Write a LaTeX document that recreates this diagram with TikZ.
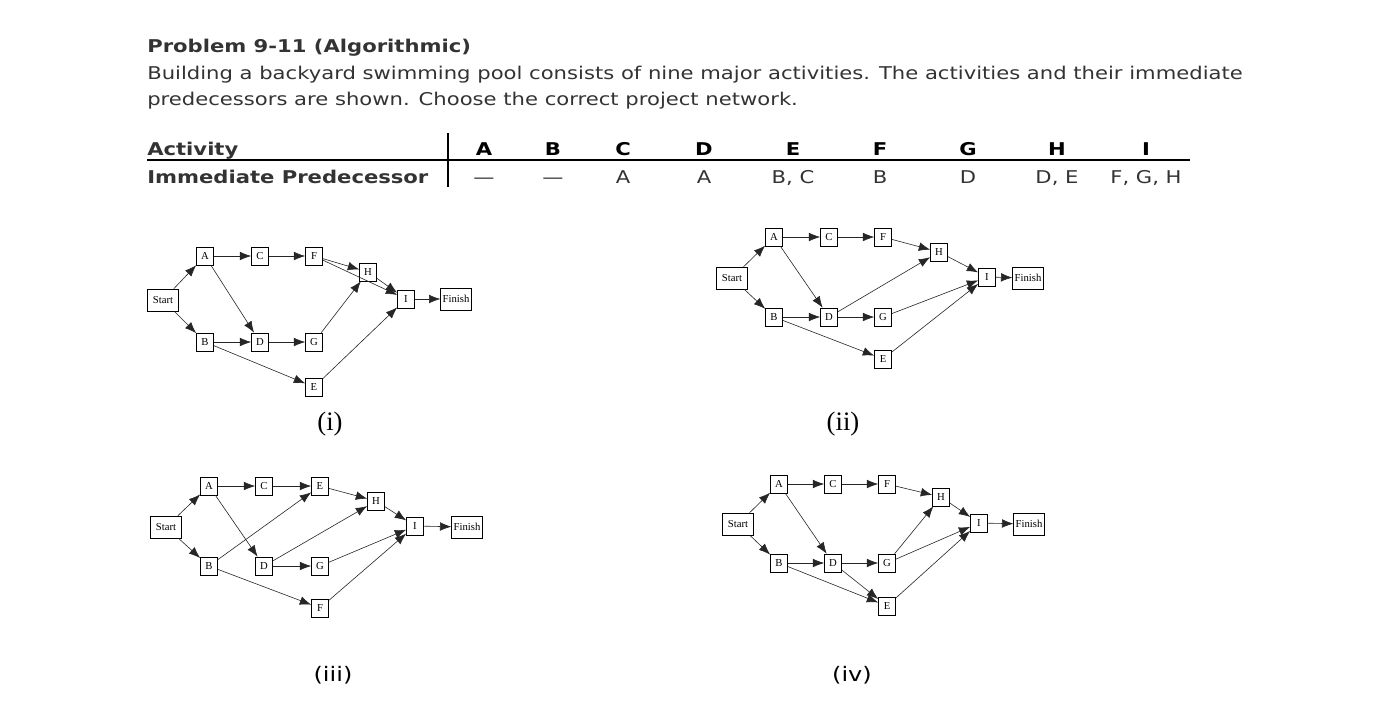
\documentclass[tikz,border=0pt]{standalone}
\usepackage{fontspec}
\setmainfont{DejaVu Sans}[FakeStretch=1.2]
\newfontfamily\dvs{DejaVu Sans}
\newfontfamily\tms{Liberation Serif}
\usetikzlibrary{arrows.meta}
\begin{document}
\begin{tikzpicture}[x=0.75pt,y=-0.75pt,
  box/.style={draw,line width=0.5pt,minimum width=12.75pt,minimum height=13.5pt,inner sep=0pt,font=\tms\fontsize{8}{9}\selectfont},
  wbox/.style={box,minimum width=23pt,minimum height=16.5pt},
  arr/.style={-{Latex[length=8.5pt,width=6.5pt]},line width=0.45pt,draw=black!85},
  txt/.style={anchor=base west,inner sep=0pt,font=\fontsize{13.2}{15}\selectfont,text=black!80},
  th/.style={anchor=base,inner sep=0pt,font=\bfseries\fontsize{13.2}{15}\selectfont},
  td/.style={anchor=base,inner sep=0pt,font=\fontsize{13.2}{15}\selectfont,text=black!80},
  rom/.style={anchor=center,inner sep=0pt,font=\tms\fontsize{20}{22}\selectfont},
  ver/.style={anchor=center,inner sep=0pt,font=\fontsize{15}{17}\selectfont}]
\useasboundingbox[fill=white] (0,0) rectangle (1398,707);
\node[txt,font=\bfseries\fontsize{13.2}{15}\selectfont,text=black!80] (title) at (147,52) {Problem 9-11 (Algorithmic)};
\node[txt] (l1) at (147,79) {Building a backyard swimming pool consists of nine major activities. The activities and their immediate};
\node[txt] (l2) at (147,105) {predecessors are shown. Choose the correct project network.};
% table
\node[txt,font=\bfseries\fontsize{13.2}{15}\selectfont] (ha) at (147,155) {Activity};
\node[txt,font=\bfseries\fontsize{13.2}{15}\selectfont] (hb) at (147,183) {Immediate Predecessor};
\draw[line width=1.3pt] (147,160) -- (1190,160);
\draw[line width=0.8pt] (448,133) -- (448,187);
\foreach \x/\a/\p in {484/A/---,553/B/---,623/C/A,704/D/A,793/E/{B, C},880/F/B,968/G/D,1057/H/{D, E},1146/I/{F, G, H}}{
  \node[th] at (\x,155) {\a};
  \node[td] at (\x,183) {\p};
}
% (i)
\node[wbox] (iS) at (163,300) {Start};
\node[box] (iA) at (205,256) {A};
\node[box] (iC) at (260,256) {C};
\node[box] (iF) at (314,256) {F};
\node[box] (iH) at (368,272) {H};
\node[box] (iI) at (406,299) {I};
\node[wbox] (iFi) at (456,299) {Finish};
\node[box] (iB) at (205,342) {B};
\node[box] (iD) at (260,342) {D};
\node[box] (iG) at (314,342) {G};
\node[box] (iE) at (314,387) {E};
\foreach \a/\b in {iS/iA,iS/iB,iA/iC,iC/iF,iA/iD,iB/iD,iD/iG,iB/iE,iF/iH,iF/iI,iG/iH,iH/iI,iE/iI,iI/iFi}
  \draw[arr] (\a) -- (\b);
\node[rom] (li) at (330,424) {(i)};
% (ii)
\node[wbox] (jS) at (732,278) {Start};
\node[box] (jA) at (774,237) {A};
\node[box] (jC) at (829,237) {C};
\node[box] (jF) at (883,237) {F};
\node[box] (jH) at (939,252) {H};
\node[box] (jI) at (987,277) {I};
\node[wbox] (jFi) at (1028,278) {Finish};
\node[box] (jB) at (774,317) {B};
\node[box] (jD) at (829,317) {D};
\node[box] (jG) at (883,317) {G};
\node[box] (jE) at (883,359) {E};
\foreach \a/\b in {jS/jA,jS/jB,jA/jC,jC/jF,jA/jD,jB/jD,jD/jG,jB/jE,jF/jH,jD/jH,jH/jI,jG/jI,jE/jI,jI/jFi}
  \draw[arr] (\a) -- (\b);
\node[rom] (lii) at (843,424) {(ii)};
% (iii)
\node[wbox] (kS) at (166,527) {Start};
\node[box] (kA) at (209,486) {A};
\node[box] (kC) at (264,486) {C};
\node[box] (kE) at (320,486) {E};
\node[box] (kH) at (376,501) {H};
\node[box] (kI) at (415,526) {I};
\node[wbox] (kFi) at (467,527) {Finish};
\node[box] (kB) at (209,566) {B};
\node[box] (kD) at (264,566) {D};
\node[box] (kG) at (320,566) {G};
\node[box] (kF) at (320,608) {F};
\foreach \a/\b in {kS/kA,kS/kB,kA/kC,kC/kE,kA/kD,kB/kE,kB/kF,kD/kH,kD/kG,kE/kH,kH/kI,kG/kI,kF/kI,kI/kFi}
  \draw[arr] (\a) -- (\b);
\node[ver] (liii) at (333,675) {(iii)};
% (iv)
\node[wbox] (mS) at (738,524) {Start};
\node[box] (mA) at (779,484) {A};
\node[box] (mC) at (833,484) {C};
\node[box] (mF) at (887,484) {F};
\node[box] (mH) at (941,497) {H};
\node[box] (mI) at (979,523) {I};
\node[wbox] (mFi) at (1029,524) {Finish};
\node[box] (mB) at (779,563) {B};
\node[box] (mD) at (833,563) {D};
\node[box] (mG) at (887,563) {G};
\node[box] (mE) at (887,606) {E};
\foreach \a/\b in {mS/mA,mS/mB,mA/mC,mC/mF,mA/mD,mB/mD,mD/mG,mB/mE,mD/mE,mF/mH,mG/mH,mG/mI,mH/mI,mE/mI,mI/mFi}
  \draw[arr] (\a) -- (\b);
\node[ver] (liv) at (852,675) {(iv)};
\end{tikzpicture}
\end{document}
